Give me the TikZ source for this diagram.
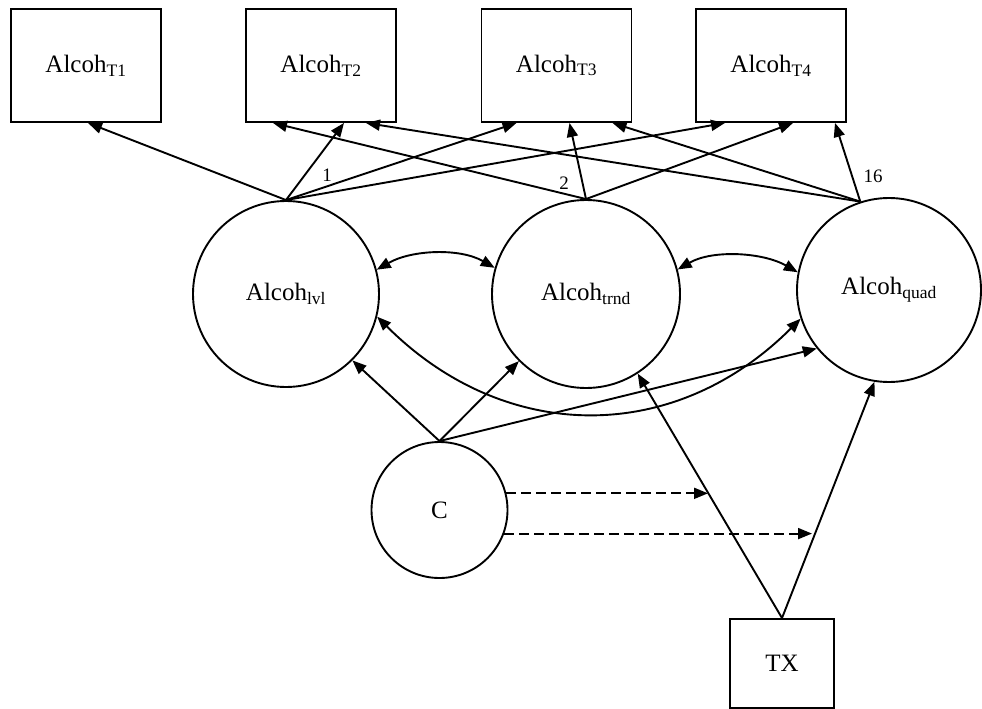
\documentclass[tikz,border=0pt]{standalone}
\usepackage{fontspec}
\setmainfont{Liberation Serif}
\usepackage{tikz}
\usetikzlibrary{arrows.meta}

\begin{document}
\begin{tikzpicture}[x=1pt,y=-1pt,line width=1.9pt,
  obs/.style={draw,rectangle,inner sep=0pt,font=\fontsize{25}{29}\selectfont},
  lat/.style={draw,circle,inner sep=0pt,font=\fontsize{25}{29}\selectfont},
  reg/.style={-{Triangle[length=14pt,width=11pt]}},
  cov/.style={{Triangle[length=14pt,width=11pt]}-{Triangle[length=14pt,width=11pt]}},
  ctrl/.style={reg,dash pattern=on 10pt off 5pt},
  wt/.style={inner sep=0pt,font=\fontsize{19}{22}\selectfont}]

\useasboundingbox (0,0) rectangle (982,709);

\node[obs,minimum width=150pt,minimum height=113pt] (t1) at (86,65.5) {Alcoh\textsubscript{T1}};

\node[obs,minimum width=150pt,minimum height=113pt] (t2) at (321,65.5) {Alcoh\textsubscript{T2}};

\node[obs,minimum width=150pt,minimum height=113pt] (t3) at (556.5,65.5) {Alcoh\textsubscript{T3}};

\node[obs,minimum width=150pt,minimum height=113pt] (t4) at (771,65.5) {Alcoh\textsubscript{T4}};

\node[lat,minimum size=186pt] (lvl) at (286,294) {Alcoh\textsubscript{lvl}};

\node[lat,minimum size=188pt] (trnd) at (586,294) {Alcoh\textsubscript{trnd}};

\node[lat,minimum size=184pt] (quad) at (889,290) {Alcoh\textsubscript{quad}};

\node[lat,minimum size=136pt] (c) at (439.5,510) {C};

\node[obs,minimum width=104pt,minimum height=89pt] (tx) at (782,663.5) {TX};

\draw[reg] (lvl.north) -- ([xshift=2pt]t1.south);
\draw[reg] (lvl.north) -- ([xshift=23pt]t2.south);
\draw[reg] (lvl.north) -- ([xshift=-40pt]t3.south);
\draw[reg] (lvl.north) -- ([xshift=-46pt]t4.south);

\draw[reg] (trnd.north) -- ([xshift=-48pt]t2.south);
\draw[reg] (trnd.north) -- ([xshift=13pt]t3.south);
\draw[reg] (trnd.north) -- ([xshift=22pt]t4.south);

\draw[reg] (quad.108) -- ([xshift=45pt]t2.south);
\draw[reg] (quad.108) -- ([xshift=56pt]t3.south);
\draw[reg] (quad.108) -- ([xshift=64pt]t4.south);

\node[wt] (one) at (327,175) {1};
\node[wt] (two) at (564,183) {2};
\node[wt] (sixteen) at (873,176) {16};

\draw[cov] (lvl.15) .. controls +(35,-20) and +(-35,-20) .. (trnd.164);

\draw[cov] (trnd.15) .. controls +(35,-20) and +(-35,-20) .. (quad.169);

\draw[cov] (lvl.-14) .. controls +(127,127) and +(-127,127) .. (quad.-162);

\draw[reg] (c.north) -- (lvl.-45);
\draw[reg] (c.north) -- (trnd.225);
\draw[reg] (c.north) -- (quad.219);

\draw[reg] (tx.north) -- (trnd.-57);
\draw[reg] (tx.north) -- (quad.-99);

\coordinate (enda) at (708,493);
\coordinate (endb) at (812,533);

\draw[ctrl] (c.14) -- (c.14 -| enda);
\draw[ctrl] (c.-20) -- (c.-20 -| endb);

\end{tikzpicture}
\end{document}
